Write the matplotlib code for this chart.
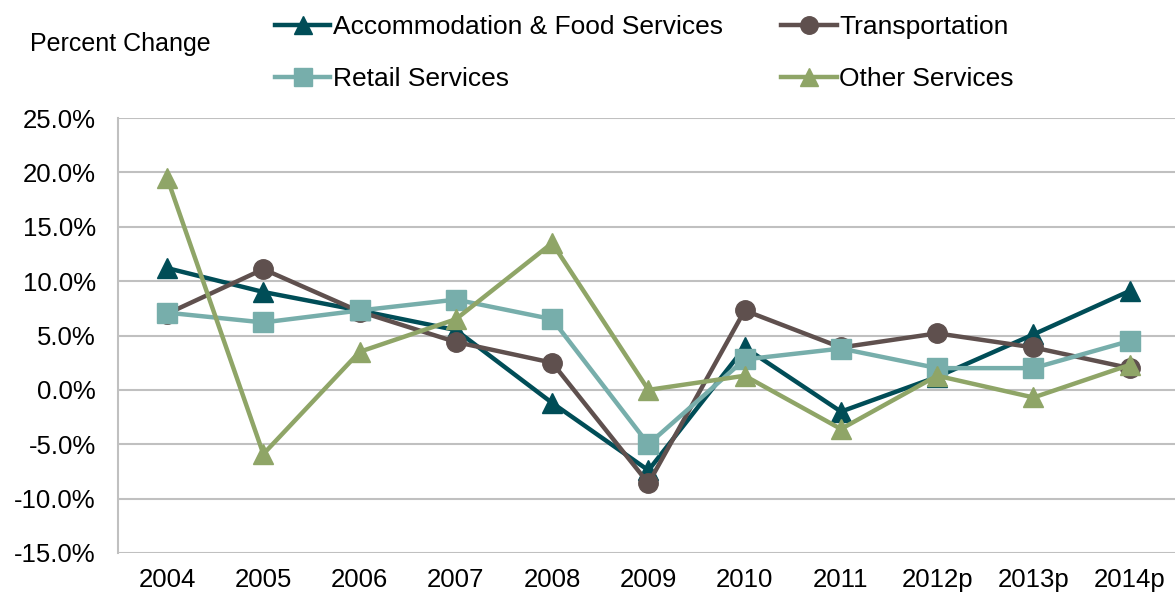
import numpy as np
import matplotlib.pyplot as plt

plt.rcParams['font.family'] = ['Liberation Sans', 'DejaVu Sans']

years = ['2004', '2005', '2006', '2007', '2008', '2009', '2010', '2011', '2012p', '2013p', '2014p']
accommodation = [11.2, 9.0, 7.3, 5.5, -1.2, -7.4, 3.9, -2.0, 1.2, 5.1, 9.1]
transportation = [7.0, 11.1, 7.2, 4.4, 2.5, -8.6, 7.3, 3.9, 5.2, 3.9, 2.0]
retail = [7.1, 6.2, 7.3, 8.3, 6.5, -5.0, 2.8, 3.8, 2.0, 2.0, 4.5]
other = [19.5, -5.9, 3.5, 6.5, 13.5, 0.0, 1.3, -3.6, 1.3, -0.7, 2.3]

series = [
    ('Accommodation & Food Services', accommodation, '#004d57', '^'),
    ('Transportation', transportation, '#5f504e', 'o'),
    ('Retail Services', retail, '#77aeab', 's'),
    ('Other Services', other, '#8fa567', '^'),
]

fig = plt.figure(figsize=(11.75, 5.99), dpi=100)
ax = fig.add_axes([118 / 1175, 1 - 553 / 599, 1 - 118 / 1175, 435 / 599])

x = np.arange(len(years))
handles = {}
for label, vals, color, marker in series:
    h, = ax.plot(x, vals, color=color, marker=marker, lw=3.2, markersize=14,
                 label=label, zorder=3)
    handles[label] = h

ax.set_ylim(-15, 25)
ax.set_yticks(np.arange(-15, 26, 5))
ax.set_yticklabels(['%.1f%%' % v for v in np.arange(-15, 26, 5)], fontsize=18.5)
ax.set_xlim(-0.51, 10.47)
ax.set_xticks(x)
ax.set_xticklabels(years, fontsize=18.5)
ax.tick_params(axis='y', length=0, pad=16)
ax.tick_params(axis='x', length=0, pad=11)
ax.yaxis.grid(True, color='#c0c0c0', lw=1.5)
ax.set_axisbelow(True)
for s in ['top', 'right', 'bottom']:
    ax.spines[s].set_visible(False)
ax.spines['left'].set_color('#c0c0c0')
ax.spines['left'].set_linewidth(1.5)

fig.text(30 / 1175, 1 - 44 / 599, 'Percent Change', fontsize=18, va='center')

# legend is filled column by column, so order the handles to read row by row
order = ['Accommodation & Food Services', 'Retail Services', 'Transportation', 'Other Services']
fig.legend(handles=[handles[k] for k in order], loc='upper left',
           bbox_to_anchor=(275 / 1175, 1 - 15 / 599), ncol=2, frameon=False,
           fontsize=19, handlelength=2.1, handletextpad=0.1, columnspacing=2.2,
           labelspacing=1.08, borderpad=0, borderaxespad=0, markerscale=0.9)

fig.savefig('out.png', dpi=100)
